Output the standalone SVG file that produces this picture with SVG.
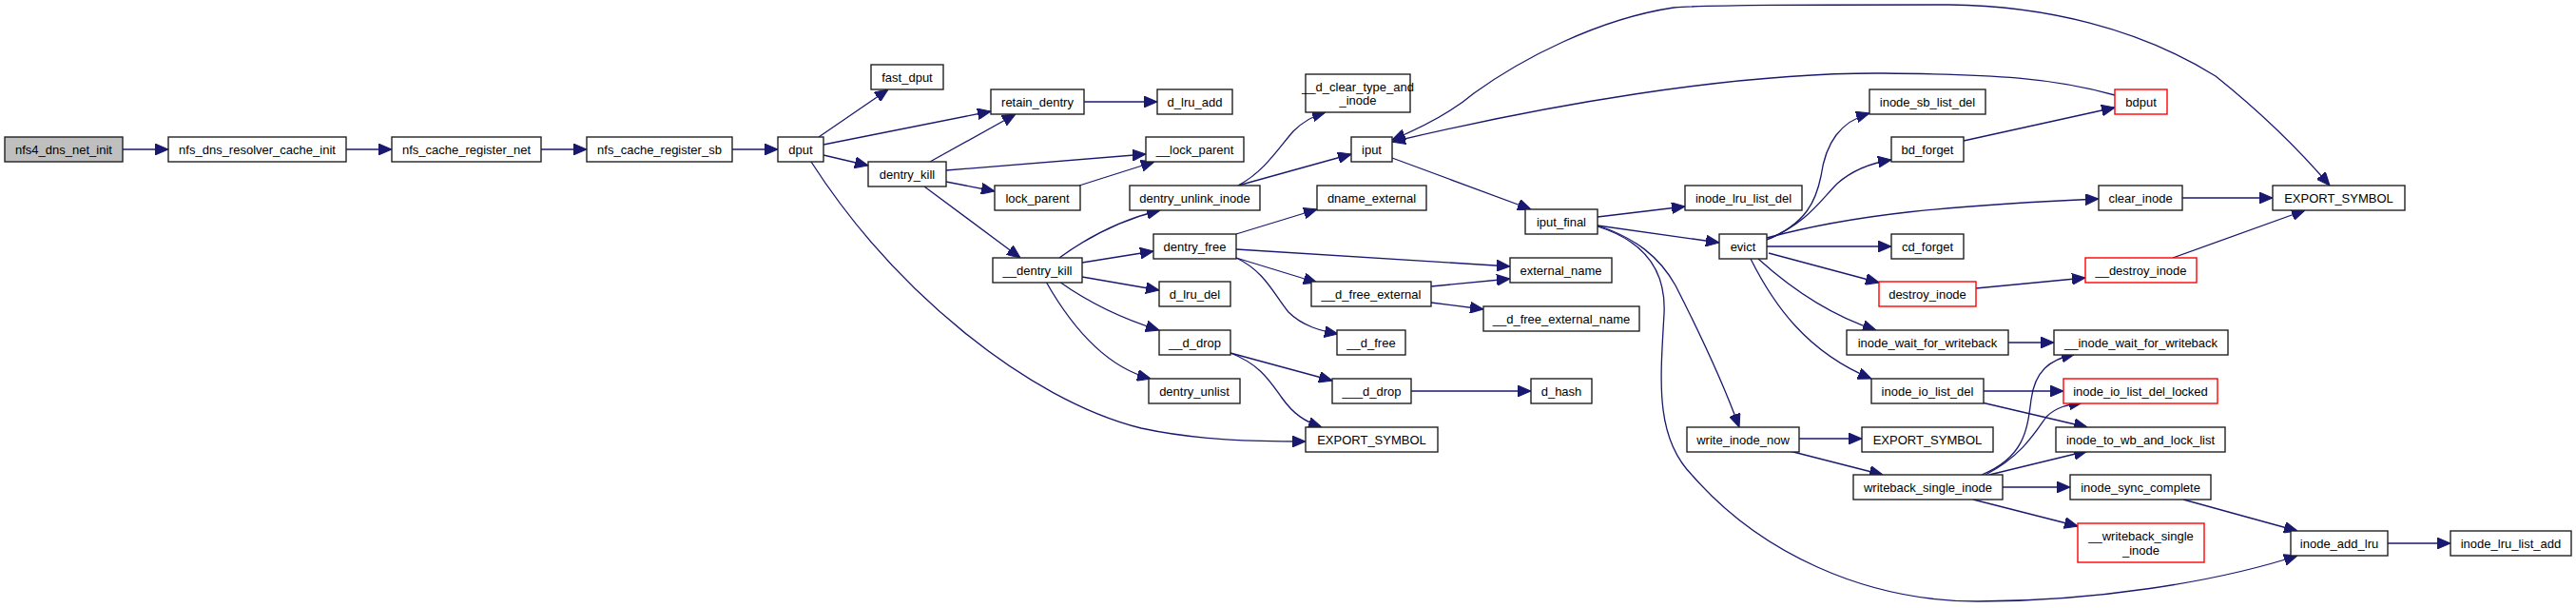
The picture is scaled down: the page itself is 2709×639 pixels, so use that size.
<svg xmlns="http://www.w3.org/2000/svg" width="2709" height="639" viewBox="0 0 2709 639">
<style>
.n rect{fill:#fff;stroke:#222;stroke-width:1.4}
.n.root rect{fill:#bfbfbf}
.n.red rect{stroke:#ff0000}
.n text{font-family:"Liberation Sans",Arial,sans-serif;font-size:13px;fill:#000;text-anchor:middle}
#edges path{fill:none;stroke:#191970;stroke-width:1.3;marker-end:url(#ah)}
</style>
<defs>
<marker id="ah" markerUnits="userSpaceOnUse" markerWidth="14" markerHeight="12" refX="13" refY="5.5" orient="auto" viewBox="0 0 13 11"><path d="M0,0 L13,5.5 L0,11 z" fill="#191970" stroke="#191970"/></marker>
<marker id="as" markerUnits="userSpaceOnUse" markerWidth="14" markerHeight="12" refX="13" refY="5.5" orient="auto-start-reverse" viewBox="0 0 13 11"><path d="M0,0 L13,5.5 L0,11 z" fill="#191970" stroke="#191970"/></marker>
</defs>
<rect width="2709" height="639" fill="#fff"/>
<g id="edges">
<path d="M129,157 L177,157"/>
<path d="M364,157 L412,157"/>
<path d="M569,157 L617,157"/>
<path d="M770,157 L818,157"/>
<path d="M861,144 L934,94"/>
<path d="M866,152 L1042,117"/>
<path d="M866,163 L913,174"/>
<path d="M853,170 C940,305 1080,420 1200,450 C1260,463 1320,464 1373,464"/>
<path d="M978,170 L1068,120"/>
<path d="M995,179 L1205,162"/>
<path d="M995,191 L1046,201"/>
<path d="M972,196 L1073,271"/>
<path d="M1135,195 L1214,170"/>
<path d="M1140,107 L1217,107"/>
<path d="M1114,271 C1140,252 1175,232 1220,221"/>
<path d="M1138,276 L1213,264"/>
<path d="M1138,291 L1219,305"/>
<path d="M1114,296 C1145,318 1180,335 1219,347"/>
<path d="M1100,296 C1125,340 1160,385 1210,398"/>
<path d="M1300,246 L1385,220"/>
<path d="M1300,262 L1588,280"/>
<path d="M1300,271 L1385,297"/>
<path d="M1300,271 C1330,285 1340,310 1355,328 C1370,343 1390,348 1407,351"/>
<path d="M1302,195 C1330,180 1345,155 1360,138 C1370,128 1380,122 1394,118"/>
<path d="M1302,195 L1421,162"/>
<path d="M1505,301 L1588,293"/>
<path d="M1505,318 L1560,325"/>
<path d="M1294,371 L1401,400"/>
<path d="M1294,371 C1325,383 1335,400 1348,418 C1360,435 1372,443 1390,449"/>
<path d="M1484,411 L1610,411"/>
<path d="M1464,166 L1610,220"/>
<path d="M2224,100 C2160,82 2100,78 1980,77 C1820,76 1620,112 1464,149"/>
<path d="M1464,147 C1500,132 1530,115 1550,98 C1600,62 1680,20 1760,8 C1800,5 1900,5 2050,5 C2150,6 2250,30 2330,80 C2380,120 2420,160 2450,195" style="marker-start:url(#as)"/>
<path d="M1680,228 L1772,217"/>
<path d="M1680,237 L1808,255"/>
<path d="M1680,237 C1720,250 1745,270 1762,300 C1790,355 1815,410 1829,449"/>
<path d="M1680,238 C1735,255 1752,290 1750,330 C1746,400 1740,460 1780,500 C1850,580 1960,632 2080,632 C2200,632 2330,612 2416,584"/>
<path d="M1858,252 C1900,235 1910,210 1915,185 C1920,150 1935,128 1966,119"/>
<path d="M1858,252 C1900,235 1915,210 1932,193 C1950,177 1970,171 1989,168"/>
<path d="M1858,250 C1950,225 2050,216 2207,209"/>
<path d="M1858,259 L1989,259"/>
<path d="M1860,266 L1976,297"/>
<path d="M1849,272 C1880,300 1920,330 1973,347"/>
<path d="M1841,272 C1865,320 1900,370 1968,398"/>
<path d="M2078,303 L2193,292"/>
<path d="M2285,271 L2424,221"/>
<path d="M2295,208 L2390,208"/>
<path d="M2065,148 L2224,113"/>
<path d="M2112,360 L2160,360"/>
<path d="M2086,411 L2170,411"/>
<path d="M2084,423 L2195,449"/>
<path d="M1892,461 L1958,461"/>
<path d="M1882,474 L1980,499"/>
<path d="M2084,499 C2130,480 2132,450 2136,420 C2140,390 2155,378 2182,372"/>
<path d="M2088,499 C2125,480 2140,455 2152,438 C2162,428 2175,425 2190,423"/>
<path d="M2092,499 L2195,474"/>
<path d="M2106,512 L2177,512"/>
<path d="M2075,525 L2185,553"/>
<path d="M2296,525 L2416,558"/>
<path d="M2511,571 L2577,571"/>
</g>
<g id="n1" class="n root"><rect x="5" y="144" width="124" height="26"/><text x="67" y="161.5">nfs4_dns_net_init</text></g>
<g id="n2" class="n"><rect x="177" y="144" width="187" height="26"/><text x="270.5" y="161.5">nfs_dns_resolver_cache_init</text></g>
<g id="n3" class="n"><rect x="412" y="144" width="157" height="26"/><text x="490.5" y="161.5">nfs_cache_register_net</text></g>
<g id="n4" class="n"><rect x="617" y="144" width="153" height="26"/><text x="693.5" y="161.5">nfs_cache_register_sb</text></g>
<g id="n5" class="n"><rect x="818" y="144" width="48" height="26"/><text x="842" y="161.5">dput</text></g>
<g id="n6" class="n"><rect x="916" y="68" width="76" height="26"/><text x="954" y="85.5">fast_dput</text></g>
<g id="n7" class="n"><rect x="1042" y="94" width="98" height="26"/><text x="1091" y="111.5">retain_dentry</text></g>
<g id="n8" class="n"><rect x="1217" y="94" width="79" height="26"/><text x="1256.5" y="111.5">d_lru_add</text></g>
<g id="n9" class="n"><rect x="913" y="170" width="82" height="26"/><text x="954" y="187.5">dentry_kill</text></g>
<g id="n10" class="n"><rect x="1046" y="195" width="90" height="26"/><text x="1091" y="212.5">lock_parent</text></g>
<g id="n11" class="n"><rect x="1205" y="144" width="103" height="26"/><text x="1256.5" y="161.5">__lock_parent</text></g>
<g id="n12" class="n"><rect x="1044" y="271" width="94" height="26"/><text x="1091" y="288.5">__dentry_kill</text></g>
<g id="n13" class="n"><rect x="1188" y="195" width="137" height="26"/><text x="1256.5" y="212.5">dentry_unlink_inode</text></g>
<g id="n14" class="n"><rect x="1213" y="246" width="87" height="26"/><text x="1256.5" y="263.5">dentry_free</text></g>
<g id="n15" class="n"><rect x="1219" y="296" width="75" height="26"/><text x="1256.5" y="313.5">d_lru_del</text></g>
<g id="n16" class="n"><rect x="1219" y="347" width="75" height="26"/><text x="1256.5" y="364.5">__d_drop</text></g>
<g id="n17" class="n"><rect x="1208" y="398" width="96" height="26"/><text x="1256" y="415.5">dentry_unlist</text></g>
<g id="n18" class="n"><rect x="1373" y="449" width="139" height="26"/><text x="1442.5" y="466.5">EXPORT_SYMBOL</text></g>
<g id="n19" class="n"><rect x="1373" y="78" width="110" height="40"/><text x="1428" y="95.5">__d_clear_type_and</text><text x="1428" y="110">_inode</text></g>
<g id="n20" class="n"><rect x="1421" y="144" width="43" height="26"/><text x="1442.5" y="161.5">iput</text></g>
<g id="n21" class="n"><rect x="1385" y="195" width="115" height="26"/><text x="1442.5" y="212.5">dname_external</text></g>
<g id="n22" class="n"><rect x="1379" y="296" width="126" height="26"/><text x="1442" y="313.5">__d_free_external</text></g>
<g id="n23" class="n"><rect x="1406" y="347" width="72" height="26"/><text x="1442" y="364.5">__d_free</text></g>
<g id="n24" class="n"><rect x="1401" y="398" width="83" height="26"/><text x="1442.5" y="415.5">___d_drop</text></g>
<g id="n25" class="n"><rect x="1604" y="220" width="76" height="26"/><text x="1642" y="237.5">iput_final</text></g>
<g id="n26" class="n"><rect x="1588" y="271" width="107" height="26"/><text x="1641.5" y="288.5">external_name</text></g>
<g id="n27" class="n"><rect x="1560" y="322" width="164" height="26"/><text x="1642" y="339.5">__d_free_external_name</text></g>
<g id="n28" class="n"><rect x="1610" y="398" width="64" height="26"/><text x="1642" y="415.5">d_hash</text></g>
<g id="n29" class="n"><rect x="1772" y="195" width="123" height="26"/><text x="1833.5" y="212.5">inode_lru_list_del</text></g>
<g id="n30" class="n"><rect x="1808" y="246" width="50" height="26"/><text x="1833" y="263.5">evict</text></g>
<g id="n31" class="n"><rect x="1774" y="449" width="118" height="26"/><text x="1833" y="466.5">write_inode_now</text></g>
<g id="n32" class="n"><rect x="1966" y="94" width="122" height="26"/><text x="2027" y="111.5">inode_sb_list_del</text></g>
<g id="n33" class="n"><rect x="1989" y="144" width="76" height="26"/><text x="2027" y="161.5">bd_forget</text></g>
<g id="n34" class="n"><rect x="1989" y="246" width="76" height="26"/><text x="2027" y="263.5">cd_forget</text></g>
<g id="n35" class="n red"><rect x="1976" y="296" width="102" height="26"/><text x="2027" y="313.5">destroy_inode</text></g>
<g id="n36" class="n"><rect x="1942" y="347" width="170" height="26"/><text x="2027" y="364.5">inode_wait_for_writeback</text></g>
<g id="n37" class="n"><rect x="1968" y="398" width="118" height="26"/><text x="2027" y="415.5">inode_io_list_del</text></g>
<g id="n38" class="n"><rect x="1958" y="449" width="138" height="26"/><text x="2027" y="466.5">EXPORT_SYMBOL</text></g>
<g id="n39" class="n"><rect x="1949" y="499" width="157" height="26"/><text x="2027.5" y="516.5">writeback_single_inode</text></g>
<g id="n40" class="n red"><rect x="2224" y="94" width="55" height="26"/><text x="2251.5" y="111.5">bdput</text></g>
<g id="n41" class="n"><rect x="2207" y="195" width="88" height="26"/><text x="2251" y="212.5">clear_inode</text></g>
<g id="n42" class="n red"><rect x="2193" y="271" width="117" height="26"/><text x="2251.5" y="288.5">__destroy_inode</text></g>
<g id="n43" class="n"><rect x="2390" y="195" width="139" height="26"/><text x="2459.5" y="212.5">EXPORT_SYMBOL</text></g>
<g id="n44" class="n"><rect x="2160" y="347" width="183" height="26"/><text x="2251.5" y="364.5">__inode_wait_for_writeback</text></g>
<g id="n45" class="n red"><rect x="2170" y="398" width="162" height="26"/><text x="2251" y="415.5">inode_io_list_del_locked</text></g>
<g id="n46" class="n"><rect x="2162" y="449" width="178" height="26"/><text x="2251" y="466.5">inode_to_wb_and_lock_list</text></g>
<g id="n47" class="n"><rect x="2177" y="499" width="148" height="26"/><text x="2251" y="516.5">inode_sync_complete</text></g>
<g id="n48" class="n red"><rect x="2185" y="550" width="133" height="41"/><text x="2251.5" y="568">__writeback_single</text><text x="2251.5" y="582.5">_inode</text></g>
<g id="n49" class="n"><rect x="2409" y="558" width="102" height="26"/><text x="2460" y="575.5">inode_add_lru</text></g>
<g id="n50" class="n"><rect x="2577" y="558" width="127" height="26"/><text x="2640.5" y="575.5">inode_lru_list_add</text></g>
</svg>
